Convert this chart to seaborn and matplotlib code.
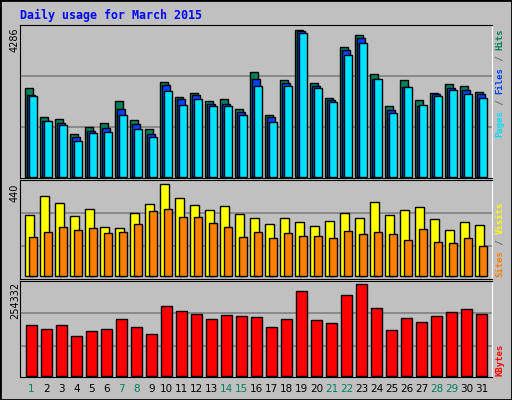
import numpy as np
import matplotlib
matplotlib.use("Agg")
import matplotlib.pyplot as plt
import seaborn as sns
from matplotlib.patches import Rectangle

days = np.arange(1, 32)
hits = [2574,1730,1671,1235,1438,1555,2196,1642,1380,2749,2312,2429,2196,2254,1963,3040,
        1788,2807,4286,2720,2283,3768,4118,2982,2050,2807,2225,2429,2691,2632,2458]
files = [2370,1613,1555,1147,1322,1409,1963,1526,1235,2662,2254,2370,2108,2108,1875,2836,
         1730,2720,4234,2632,2225,3681,4030,2836,1934,2603,2050,2400,2574,2516,2400]
pages = [2341,1613,1497,1031,1264,1293,1788,1380,1147,2487,2079,2254,2050,2050,1788,2632,
         1584,2632,4176,2574,2167,3535,3885,2836,1846,2603,2079,2341,2516,2400,2283]
visits = [292,383,349,287,320,234,230,301,344,440,373,340,316,335,296,277,249,277,258,239,
          263,301,277,354,292,316,330,273,220,258,244]
sites = [187,210,234,220,230,206,210,249,311,320,282,282,253,234,187,210,182,206,191,191,
         182,215,201,210,201,172,225,163,158,182,143]
kbytes = [140150,129000,140150,109500,123450,129000,156850,134600,115100,193050,179150,
          170800,156850,168000,165200,162450,134600,156850,234850,154100,145700,223700,
          254332,187500,126250,159650,148500,165200,176350,184700,170800]
weekend = [1,7,8,14,15,21,22,28,29]

BG = "#C0C0C0"
W, H = 512, 400
fig = plt.figure(figsize=(5.12, 4.0), dpi=100, facecolor=BG)
fig.patches.append(Rectangle((0, 0), 1, 1, transform=fig.transFigure, fill=False,
                             edgecolor="black", linewidth=2))

def ax_px(x0, y0, x1, y1):
    return fig.add_axes([x0 / W, 1 - y1 / H, (x1 - x0) / W, (y1 - y0) / H])

XL = (0.233, 31.7)

def style(ax, ylim, grid):
    ax.set_facecolor(BG)
    ax.set_xlim(*XL)
    ax.set_ylim(*ylim)
    for g in grid:
        ax.axhline(g, color="#808080", lw=1.2, zorder=0)
    ax.set_xticks([]); ax.set_yticks([])
    ax.set_xlabel(""); ax.set_ylabel("")
    for s in ["left", "bottom", "top"]:
        ax.spines[s].set_color("black")
    ax.spines["right"].set_color("white")
    if ax.get_legend():
        ax.get_legend().remove()

def bars(ax, xs, ys, color, width):
    sns.barplot(x=xs, y=ys, native_scale=True, color=color, width=width,
                edgecolor="black", linewidth=1, saturation=1, ax=ax, zorder=2, errorbar=None)

ax1 = ax_px(20, 25, 492, 178)
bars(ax1, days - 0.17, hits, "#00805C", 0.5)
bars(ax1, days - 0.04, files, "#0040FF", 0.5)
bars(ax1, days + 0.09, pages, "#00E0FF", 0.5)
style(ax1, (-38, 4418), [1438, 2924])

ax2 = ax_px(20, 180, 492, 279)
bars(ax2, days - 0.13, visits, "#FFFF00", 0.56)
bars(ax2, days + 0.10, sites, "#FF8000", 0.5)
style(ax2, (-12.9, 460.6), [143, 301])

ax3 = ax_px(20, 281, 492, 377)
bars(ax3, days, kbytes, "#FF0000", 0.68)
style(ax3, (-3620, 263750), [81700, 173600])

# day labels
for d in days:
    xf = (20 + (d - XL[0]) / (XL[1] - XL[0]) * 472) / W
    fig.text(xf, 1 - 389 / H, str(d), ha="center", va="center", fontsize=7.5,
             color="#008060" if d in weekend else "black")

fig.text(20 / W, 1 - 15 / H, "Daily usage for March 2015", fontsize=8.4,
         family="DejaVu Sans Mono", weight="bold", color="#0000FF", va="center")

for txt, ytop in [("4286", 27), ("440", 184), ("254332", 282)]:
    fig.text(15 / W, 1 - ytop / H, txt, rotation=90, ha="center", va="top", fontsize=7)

def vlabel(segs, ybottom, fs=6.5):
    cw = 0.602 * fs * 100 / 72
    y = ybottom
    for s, c in segs:
        fig.text(500 / W, 1 - y / H, s, rotation=90, ha="center", va="bottom",
                 fontsize=fs, family="DejaVu Sans Mono", weight="bold", color=c)
        y -= cw * len(s)

vlabel([("Pages", "#00E0FF"), (" / ", "#606060"), ("Files", "#0040FF"),
        (" / ", "#606060"), ("Hits", "#00805C")], 137)
vlabel([("Sites", "#FF8000"), (" / ", "#606060"), ("Visits", "#FFFF00")], 277)
vlabel([("KBytes", "#FF0000")], 376)

fig.savefig("out.png", dpi=100, facecolor=BG)
